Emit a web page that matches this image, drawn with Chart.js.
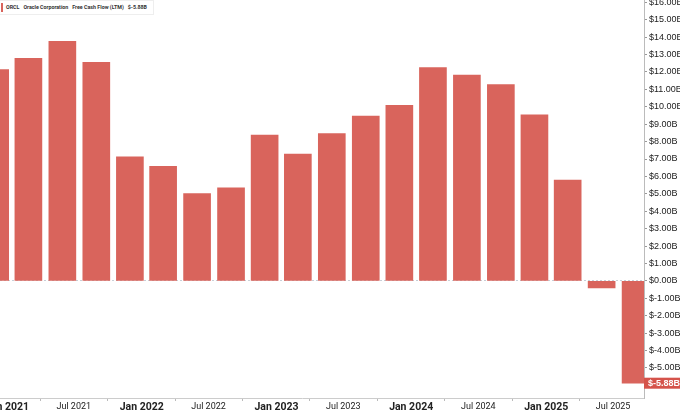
<!DOCTYPE html>
<html>
<head>
<meta charset="utf-8">
<script src="https://cdn.jsdelivr.net/npm/chart.js@4/dist/chart.umd.min.js"></script>
<style>
  html, body { margin: 0; padding: 0; background: #fff; overflow: hidden; }
  body { width: 680px; height: 412px; position: relative; }
  #wrap { position: absolute; left: -40px; top: -8px; width: 720px; height: 420px; }
  #legend {
    position: absolute; left: 0; top: 0; height: 13px; padding: 0 6px 0 6px;
    background: #fff; border: 1px solid #eee; border-left: none;
    font: bold 5.3px Roboto, sans-serif; color: #333; line-height: 13px; white-space: nowrap;
  }
  #legend::before {
    content: ''; position: absolute; left: 1px; top: 2px; width: 2px; height: 9px; background: #d9645c;
  }
  #legend span { margin-right: 4px; }
</style>
</head>
<body>
<div id="wrap"><canvas id="fcfChart"></canvas></div>
<div id="legend"><span>ORCL</span><span>Oracle Corporation</span><span>Free Cash Flow (LTM)</span><span style="margin-right:0">$-5.88B</span></div>
<script>
// quarter end dates (Oracle fiscal quarters) and LTM free cash flow, $B
const quarterEnds = [
    '2020-11-30', '2021-02-28', '2021-05-31', '2021-08-31',
    '2021-11-30', '2022-02-28', '2022-05-31', '2022-08-31',
    '2022-11-30', '2023-02-28', '2023-05-31', '2023-08-31',
    '2023-11-30', '2024-02-29', '2024-05-31', '2024-08-31',
    '2024-11-30', '2025-02-28', '2025-05-31', '2025-08-31'
];
const fcfValues = [
    12.14, 12.79, 13.76, 12.56,
    7.12, 6.58, 5.01, 5.35,
    8.38, 7.29, 8.46, 9.46,
    10.09, 12.26, 11.82, 11.28,
    9.54, 5.79, -0.40, -5.88
];
const tickDates = ['2021-01-01', '2021-07-01', '2022-01-01', '2022-07-01', '2023-01-01',
    '2023-07-01', '2024-01-01', '2024-07-01', '2025-01-01', '2025-07-01'];
const tickLabels = ['Jan 2021', 'Jul 2021', 'Jan 2022', 'Jul 2022', 'Jan 2023',
    'Jul 2023', 'Jan 2024', 'Jul 2024', 'Jan 2025', 'Jul 2025'];

const barColor = '#d9645c';
const day0 = Date.UTC(2021, 0, 1);
function dayOf(s) {
    const [y, m, d] = s.split('-').map(Number);
    return (Date.UTC(y, m - 1, d) - day0) / 86400000;
}

const points = quarterEnds.map((d, i) => ({ x: dayOf(d), y: fcfValues[i] }));
const lastValue = fcfValues[fcfValues.length - 1];

const lastBadge = {
    id: 'lastBadge',
    afterDraw(chart) {
        const ctx = chart.ctx;
        const y = chart.scales.y.getPixelForValue(lastValue);
        const x = chart.chartArea.right;
        ctx.save();
        ctx.fillStyle = '#d5534b';
        ctx.fillRect(x, y - 5.5, chart.width - x, 11);
        ctx.fillStyle = '#fff';
        ctx.font = 'bold 9px "Liberation Sans", Arial, sans-serif';
        ctx.textBaseline = 'middle';
        ctx.textAlign = 'left';
        ctx.fillText('$' + lastValue.toFixed(2) + 'B', x + 4, y + 0.5);
        ctx.restore();
    }
};

new Chart(document.getElementById('fcfChart').getContext('2d'), {
    type: 'bar',
    data: {
        datasets: [{
            data: points,
            backgroundColor: barColor,
            borderWidth: 0,
            barThickness: 27
        }]
    },
    options: {
        responsive: true,
        maintainAspectRatio: false,
        animation: false,
        layout: { padding: 0 },
        scales: {
            x: {
                type: 'linear',
                offset: false,
                min: -127.3,
                max: 1725.8,
                afterBuildTicks: (scale) => { scale.ticks = tickDates.map(d => ({ value: dayOf(d) })); },
                afterFit: (scale) => { scale.height = 14; },
                grid: { display: true, drawOnChartArea: false, tickLength: 3, tickColor: '#bbb' },
                border: { color: '#ccc' },
                ticks: {
                    autoSkip: false,
                    maxRotation: 0,
                    padding: 0,
                    color: '#222',
                    font: (c) => (tickLabels[c.index] && tickLabels[c.index].startsWith('Jan'))
                        ? { family: 'Roboto', size: 10.5, weight: 'bold' }
                        : { family: 'Roboto', size: 9 },
                    callback: (v, i) => tickLabels[i]
                }
            },
            y: {
                position: 'right',
                min: -6.73,
                max: 16.17,
                afterBuildTicks: (scale) => {
                    scale.ticks = scale.ticks.filter(t => Math.abs(t.value - lastValue) > 0.5);
                },
                afterFit: (scale) => { scale.width = 36; },
                grid: {
                    color: (c) => c.tick && c.tick.value === 0 ? '#c8d0d8' : 'transparent',
                    tickColor: '#999',
                    tickLength: 3
                },
                border: { color: '#bbb', dash: [2, 2] },
                ticks: {
                    stepSize: 1,
                    includeBounds: false,
                    padding: 2,
                    color: '#222',
                    font: { family: 'Liberation Sans', size: 9 },
                    callback: (v) => '$' + v.toFixed(2) + 'B'
                }
            }
        },
        plugins: {
            legend: { display: false },
            tooltip: { enabled: false }
        }
    },
    plugins: [lastBadge]
});
</script>
</body>
</html>
